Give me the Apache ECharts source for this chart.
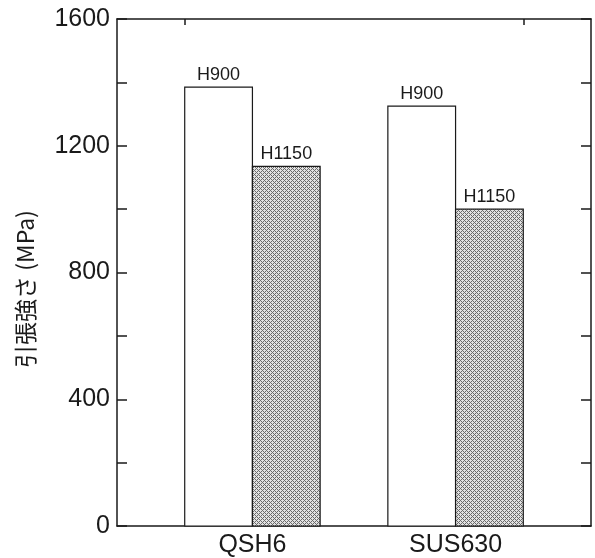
<!DOCTYPE html>
<html><head><meta charset="utf-8">
<script src="https://cdn.jsdelivr.net/npm/echarts@6/dist/echarts.min.js"></script>
<style>html,body{margin:0;padding:0;background:#fff}#c{width:595px;height:558px}</style>
</head><body><div id="c"></div>
<script>
var categories = ['QSH6', 'SUS630'];
var seriesNames = ['H900', 'H1150'];
var h900 = [1385, 1325];
var h1150 = [1135, 1000];
var yTicks = [0, 400, 800, 1200, 1600];

var FONT = '"Liberation Sans", Arial, sans-serif';
var INK = '#1a1a1a';

// crosshatch pattern
var pc = document.createElement('canvas');
pc.width = 4; pc.height = 4;
var pctx = pc.getContext('2d');
pctx.fillStyle = '#e2e2e2'; pctx.fillRect(0,0,4,4);
pctx.fillStyle = '#6a6a6a';
for (var x=0;x<4;x++) for (var y=0;y<4;y++) {
  if ((x+y)%4===0 || ((x-y)+4)%4===0) pctx.fillRect(x,y,1,1);
}
var hatch = {image: pc, repeat: 'repeat'};

function makeSeries(name, values, offset, fill) {
  return {
    type: 'custom', name: name, xAxisIndex: 0, yAxisIndex: 0,
    data: values.map(function(v, i){ return [i, v]; }),
    renderItem: function(params, api) {
      var idx = api.value(0), val = api.value(1);
      var x0 = 2 + 3*idx + offset;
      var p0 = api.coord([x0, val]);
      var p1 = api.coord([x0 + 1, 0]);
      return {
        type: 'group',
        children: [
          {type: 'rect', shape: {x: p0[0], y: p0[1], width: p1[0]-p0[0], height: p1[1]-p0[1]},
           style: {fill: fill, stroke: INK, lineWidth: 1.2}},
          {type: 'text', x: (p0[0]+p1[0])/2, y: p0[1]-3,
           style: {text: name, font: '18px ' + FONT, fill: INK, textAlign: 'center', textVerticalAlign: 'bottom'}}
        ]
      };
    }
  };
}

var chart = echarts.init(document.getElementById('c'));
var axisLine = {show: true, onZero: false, lineStyle: {color: INK, width: 1.5}};
chart.setOption({
  animation: false,
  backgroundColor: '#fff',
  grid: {left: 117, right: 4, top: 19, bottom: 30, containLabel: false},
  xAxis: [
    {type: 'value', min: 0, max: 7, interval: 1, position: 'bottom',
     axisLine: axisLine, axisTick: {show: false}, splitLine: {show: false},
     axisLabel: {fontSize: 25, fontFamily: FONT, color: INK, margin: 7, showMinLabel: true, showMaxLabel: true,
       formatter: function(v){ if (v === 2) return categories[0]; if (v === 5) return categories[1]; return ''; }}},
    {type: 'value', min: 0, max: 7, interval: 1, position: 'top',
     axisLine: axisLine, splitLine: {show: false}, axisLabel: {show: false},
     axisTick: {show: true, inside: true, length: 6, customValues: [1, 6], lineStyle: {color: INK, width: 1.5}}}
  ],
  yAxis: [
    {type: 'value', min: yTicks[0], max: yTicks[yTicks.length-1], interval: 400, position: 'left',
     axisLine: axisLine, splitLine: {show: false},
     axisTick: {show: true, inside: true, length: 10, lineStyle: {color: INK, width: 1.5}},
     minorTick: {show: true, splitNumber: 2, length: 10, lineStyle: {color: INK, width: 1.5}},
     axisLabel: {fontSize: 25, fontFamily: FONT, color: INK, margin: 7, formatter: function(v){ return String(v); }}},
    {type: 'value', min: yTicks[0], max: yTicks[yTicks.length-1], interval: 400, position: 'right',
     axisLine: axisLine, splitLine: {show: false}, axisLabel: {show: false},
     axisTick: {show: true, inside: true, length: 10, lineStyle: {color: INK, width: 1.5}},
     minorTick: {show: true, splitNumber: 2, length: 10, lineStyle: {color: INK, width: 1.5}}}
  ],
  graphic: [
    {type: 'text', x: 25, y: 289, rotation: Math.PI/2,
     style: {text: '引張強さ (MPa)', font: '23px "Noto Sans CJK JP", ' + FONT, fill: INK, textAlign: 'center', textVerticalAlign: 'middle'}}
  ],
  series: [
    makeSeries(seriesNames[0], h900, -1, '#ffffff'),
    makeSeries(seriesNames[1], h1150, 0, hatch)
  ]
});
</script></body></html>
